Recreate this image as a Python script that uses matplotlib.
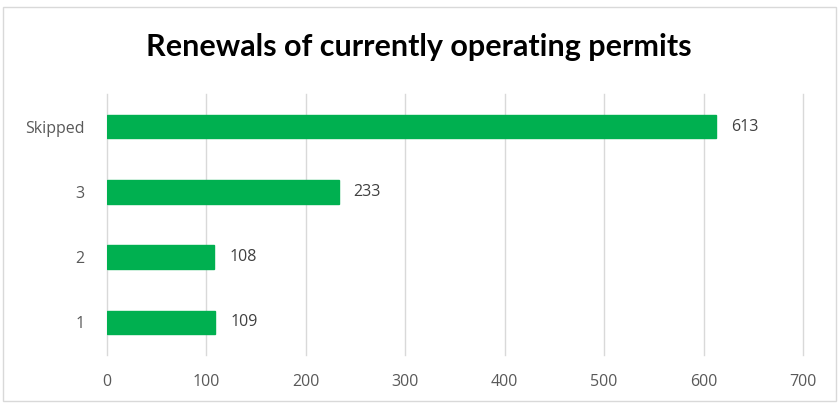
import matplotlib.pyplot as plt
from matplotlib.patches import Rectangle

categories = ['1', '2', '3', 'Skipped']
values = [109, 108, 233, 613]
x_ticks = [0, 100, 200, 300, 400, 500, 600, 700]

W, H = 838, 404
fig = plt.figure(figsize=(W / 100, H / 100), dpi=100)

# chart border
fig.patches.append(Rectangle((3 / W, 3 / H), 833 / W, (H - 10) / H, transform=fig.transFigure,
                             fill=False, edgecolor='#d9d9d9', linewidth=1))

ax = fig.add_axes([107 / W, 1 - 355 / H, 696 / W, 261 / H])
ypos = list(range(len(categories)))
ax.barh(ypos, values, height=0.36, color='#00b050', edgecolor='#00b050', zorder=3)
for y, v in zip(ypos, values):
    ax.text(v + 15, y, str(v), va='center', ha='left', fontsize=11.5,
            color='#404040', family='Open Sans')

ax.set_xlim(0, 700)
ax.set_ylim(-0.5, 3.5)
ax.set_xticks(x_ticks)
ax.set_yticks(ypos)
ax.set_yticklabels(categories)
ax.grid(axis='x', color='#d9d9d9', linewidth=1, zorder=0)
for gl in ax.get_xgridlines():
    gl.set_clip_on(False)
for s in ax.spines.values():
    s.set_visible(False)
ax.tick_params(length=0, labelsize=11.5, labelcolor='#595959')
for lbl in ax.get_xticklabels() + ax.get_yticklabels():
    lbl.set_family('Open Sans')
ax.tick_params(axis='x', pad=14)
ax.tick_params(axis='y', pad=16)

fig.text(0.5, 1 - 47 / H, 'Renewals of currently operating permits', ha='center', va='center',
         fontsize=22, fontweight='bold', family='Lato', color='black')

fig.savefig('out.png', dpi=100)
